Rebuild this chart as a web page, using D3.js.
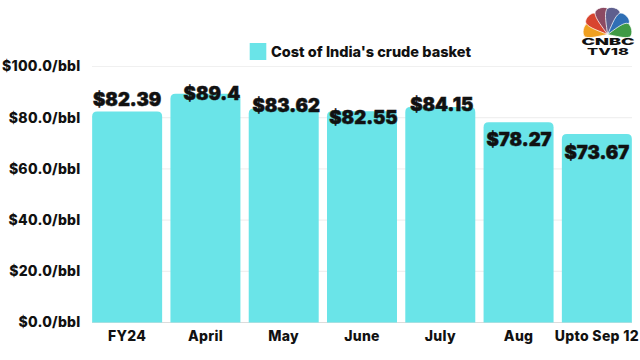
<!DOCTYPE html>
<html>
<head>
<meta charset="utf-8">
<script src="https://cdn.jsdelivr.net/npm/d3@7"></script>
<style>
  html, body { margin: 0; padding: 0; background: #fff; }
  svg { display: block; }
  text { font-family: Inter, "Open Sans", sans-serif; fill: #111; }
  .domain { display: none; }
</style>
</head>
<body>
<svg id="chart" width="640" height="360"></svg>
<script>
const categories = ["FY24", "April", "May", "June", "July", "Aug", "Upto Sep 12"]
const crudeCost = [82.39, 89.4, 83.62, 82.55, 84.15, 78.27, 73.67]
const valueLabels = ["$82.39", "$89.4", "$83.62", "$82.55", "$84.15", "$78.27", "$73.67"]
const yTicks = [0, 20, 40, 60, 80, 100]
const legendLabel = "Cost of India's crude basket"

const barColor = "#6ae4e8"

const svg = d3.select("#chart")

const xScale = d3.scaleBand()
                .domain(categories)
                .range([88, 636])
                .paddingInner(0.106)
                .paddingOuter(0.053)

const yScale = d3.scaleLinear()
                .domain([0, 100])
                .range([322.5, 66.5])

// gridlines go under the bars
svg.append("g")
    .selectAll("line")
    .data(yTicks)
    .join("line")
    .attr("x1", 92)
    .attr("x2", 632)
    .attr("y1", d => yScale(d))
    .attr("y2", d => yScale(d))
    .attr("stroke", d => d === 0 ? "#dcdcdc" : "#f0f0f0")
    .attr("stroke-width", 1.2)

// rounded on top, flat on the baseline
const barPath = (d, i) => {
    const x0 = xScale(categories[i])
    const x1 = x0 + xScale.bandwidth()
    const top = yScale(d)
    const r = 5
    return `M${x0},${yScale(0)}V${top + r}Q${x0},${top} ${x0 + r},${top}H${x1 - r}Q${x1},${top} ${x1},${top + r}V${yScale(0)}Z`
}

svg.append("g")
    .selectAll("path")
    .data(crudeCost)
    .join("path")
    .attr("d", barPath)
    .attr("fill", barColor)

// the labels sit by hand in the original, nudged off each bar top
const labelNudgeX = [0, 6.5, 2.5, 1.5, 1.5, 0.5, 0]
const labelNudgeY = [-5.5, 6.5, 4, 13, 4, 24, 25]

svg.append("g")
    .selectAll("text")
    .data(valueLabels)
    .join("text")
    .attr("x", (d, i) => xScale(categories[i]) + xScale.bandwidth() / 2 + labelNudgeX[i])
    .attr("y", (d, i) => yScale(crudeCost[i]) + labelNudgeY[i])
    .attr("text-anchor", "middle")
    .attr("font-size", 18.5)
    .attr("font-weight", 900)
    .attr("stroke", "#111")
    .attr("stroke-width", 0.5)
    .text(d => d)

const yAxis = svg.append("g")
    .attr("transform", "translate(80.5,0)")
    .call(d3.axisLeft(yScale).tickValues(yTicks).tickSize(0).tickPadding(0).tickFormat(d => `$${d.toFixed(1)}/bbl`))

yAxis.selectAll("text")
    .attr("font-size", 14)
    .attr("font-weight", 800)
    .attr("letter-spacing", 0.25)
    .attr("font-family", "Inter")
    .attr("fill", "#111")

const xAxis = svg.append("g")
    .attr("transform", `translate(0,${yScale(0)})`)
    .call(d3.axisBottom(xScale).tickSize(0).tickPadding(9))

xAxis.selectAll("text")
    .attr("font-size", 14)
    .attr("font-weight", 800)
    .attr("letter-spacing", 0.3)
    .attr("font-family", "Inter")
    .attr("fill", "#111")

// legend
svg.append("rect")
    .attr("x", 249.7)
    .attr("y", 43)
    .attr("width", 16.6)
    .attr("height", 17)
    .attr("fill", barColor)

svg.append("text")
    .attr("x", 271)
    .attr("y", 56.5)
    .attr("font-size", 14.4)
    .attr("font-weight", 800)
    .attr("textLength", 200)
    .attr("lengthAdjust", "spacingAndGlyphs")
    .text(legendLabel)

// logo
const feathers = [
    {angle: -78, len: 25, fill: "#f0a020"},
    {angle: -46, len: 27, fill: "#d8452f"},
    {angle: -14, len: 28, fill: "#8c4a62"},
    {angle: 14, len: 28, fill: "#5e5f8e"},
    {angle: 46, len: 27, fill: "#2f6fb5"},
    {angle: 78, len: 25, fill: "#3f9a45"}
]

const logo = svg.append("g").attr("transform", "translate(607.5,34.5)")

logo.selectAll("path")
    .data(feathers)
    .join("path")
    .attr("transform", d => `rotate(${d.angle})`)
    .attr("d", d => `M0,0C-3,${-d.len * 0.3} -8,${-d.len * 0.65} -7,${-d.len * 0.85}C-6,${-d.len * 1.03} 6,${-d.len * 1.03} 7,${-d.len * 0.85}C8,${-d.len * 0.65} 3,${-d.len * 0.3} 0,0Z`)
    .attr("fill", d => d.fill)
    .attr("stroke", "#fff")
    .attr("stroke-width", 0.7)

svg.append("text")
    .attr("x", 581.5)
    .attr("y", 44.5)
    .attr("font-size", 9)
    .attr("font-weight", 900)
    .attr("textLength", 53)
    .attr("lengthAdjust", "spacingAndGlyphs")
    .text("CNBC")

svg.append("text")
    .attr("x", 587)
    .attr("y", 55)
    .attr("font-size", 9.5)
    .attr("font-weight", 800)
    .attr("textLength", 42)
    .attr("lengthAdjust", "spacingAndGlyphs")
    .text("TV18")
</script>
</body>
</html>
